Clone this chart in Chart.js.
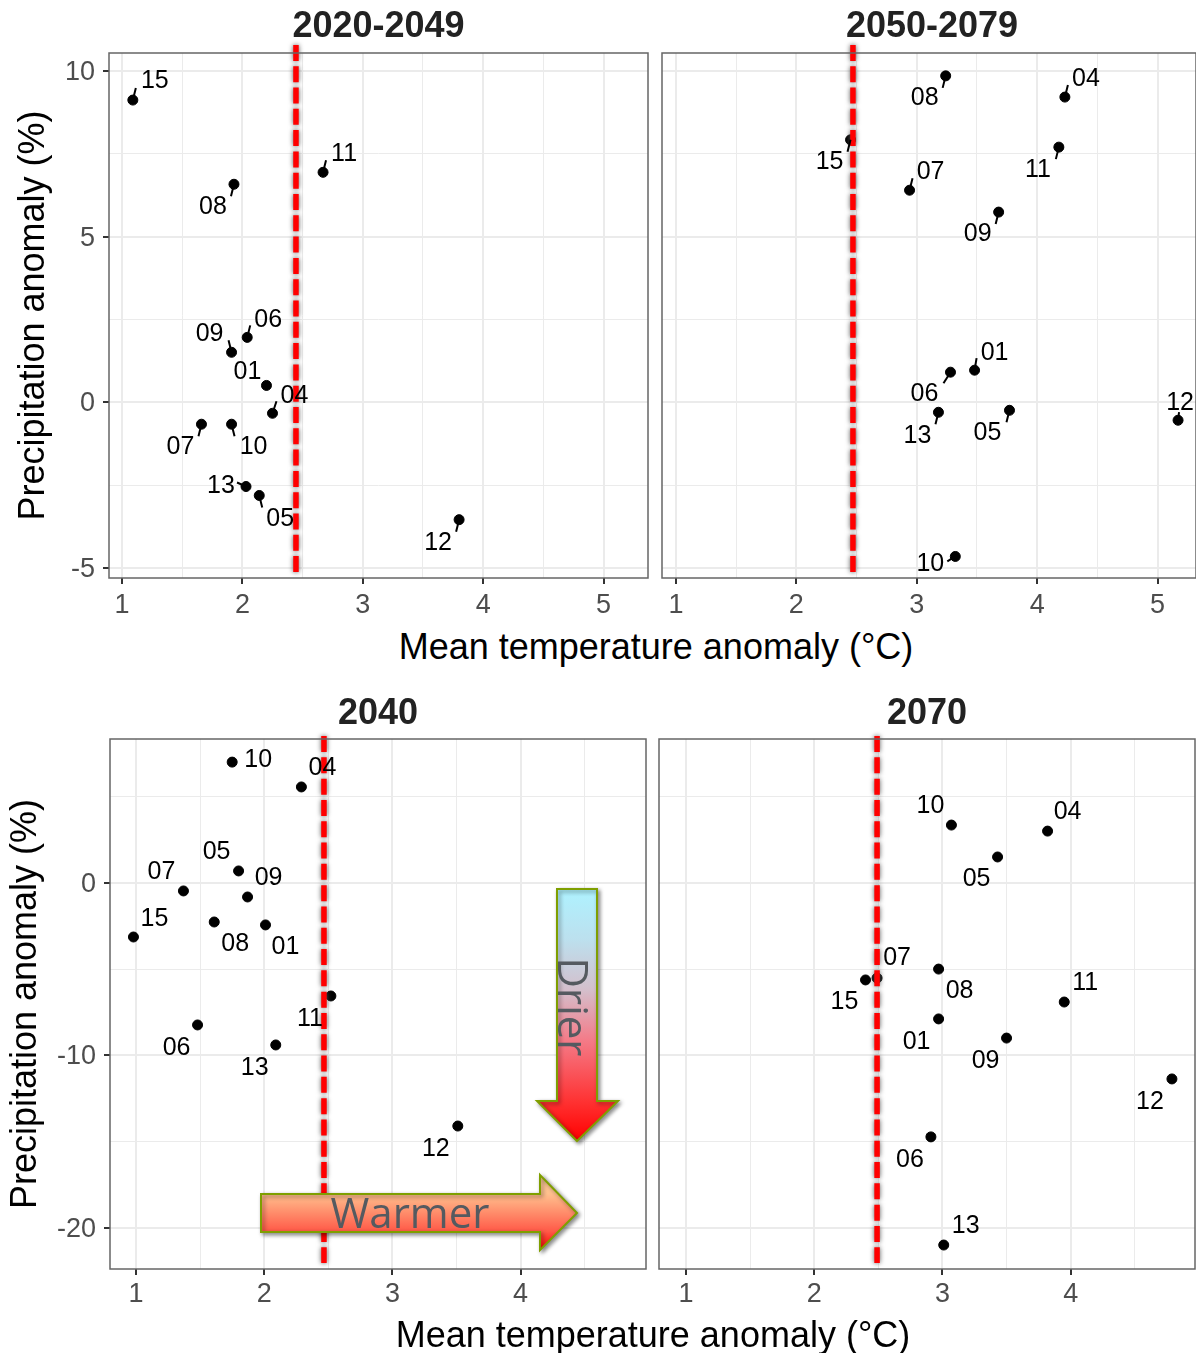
<!DOCTYPE html>
<html>
<head>
<meta charset="utf-8">
<script src="https://cdn.jsdelivr.net/npm/chart.js@4"></script>
<style>
html,body{margin:0;padding:0;background:#fff;}
body{position:relative;width:1196px;height:1353px;overflow:hidden;font-family:"Liberation Sans",Arial,sans-serif;}
canvas{position:absolute;}
.xtitle{position:absolute;font-size:36px;color:#000;white-space:nowrap;line-height:42px;transform:translateX(-50%);}
</style>
</head>
<body>
<canvas id="c1" width="655" height="625" style="left:0;top:0"></canvas>
<canvas id="c2" width="536" height="625" style="left:660px;top:0"></canvas>
<canvas id="c3" width="653" height="625" style="left:0;top:690px"></canvas>
<canvas id="c4" width="539" height="625" style="left:657px;top:690px"></canvas>
<div class="xtitle" style="left:656px;top:626px">Mean temperature anomaly (°C)</div>
<div class="xtitle" style="left:653px;top:1314px">Mean temperature anomaly (°C)</div>

<script>
// 2020-2049
let ids1 = ["15","08","11","06","09","01","04","07","10","13","05","12"];
let temp1 = [1.09,1.93,2.67,2.04,1.91,2.20,2.25,1.66,1.91,2.03,2.14,3.80];
let prec1 = [9.12,6.58,6.94,1.96,1.51,0.51,-0.33,-0.66,-0.66,-2.54,-2.81,-3.54];
let labelDx1 = [22,-21,21,21,-22,-19,22,-21,22,-25,21,-21];
let labelDy1 = [-20,21,-20,-19,-20,-15,-19,21,21,-2,22,22];
let tailDx1 = [3,-3,3,3,-3,0,4,-3,3,-9,3,-3];
let tailDy1 = [-12,12,-12,-12,-12,0,-12,12,12,-4,12,12];

// 2050-2079
let ids2 = ["08","04","15","11","07","09","01","06","13","05","12","10"];
let temp2 = [3.24,4.23,2.45,4.18,2.94,3.68,3.48,3.28,3.18,3.77,5.17,3.32];
let prec2 = [9.85,9.21,7.92,7.70,6.40,5.74,0.97,0.91,-0.30,-0.24,-0.54,-4.65];
let labelDx2 = [-21,21,-21,-21,21,-21,20,-26,-21,-22,2,-25];
let labelDy2 = [21,-19,21,21,-20,21,-19,20,22,21,-19,6];
let tailDx2 = [-3,3,-3,-3,3,-3,2,-7,-3,-3,1,-8];
let tailDy2 = [12,-12,12,12,-12,12,-12,11,12,12,-8,5];

// 2040
let ids3 = ["10","04","05","07","09","15","08","01","11","06","13","12"];
let temp3 = [1.75,2.29,1.80,1.37,1.87,0.98,1.61,2.01,2.52,1.48,2.09,3.51];
let prec3 = [7.01,5.57,0.70,-0.46,-0.81,-3.13,-2.26,-2.43,-6.55,-8.23,-9.39,-14.09];
let labelDx3 = [26,21,-22,-22,21,21,21,20,-21,-21,-21,-22];
let labelDy3 = [-4,-20,-20,-20,-20,-19,21,21,22,22,22,22];

// 2070
let ids4 = ["10","04","05","07","15","08","11","01","09","12","06","13"];
let temp4 = [3.07,3.82,3.43,2.49,2.40,2.97,3.95,2.97,3.50,4.79,2.91,3.01];
let prec4 = [3.36,3.01,1.51,-5.51,-5.62,-4.99,-6.90,-7.88,-8.99,-11.36,-14.72,-20.99];
let labelDx4 = [-21,20,-21,20,-21,21,21,-22,-21,-22,-21,22];
let labelDy4 = [-20,-20,21,-21,21,21,-20,22,22,22,22,-20];

let thresholds = [2.445,2.47,2.466,2.49];
let titles = ["2020-2049","2050-2079","2040","2070"];
let yTitle = "Precipitation anomaly (%)";

const FONT = '"Liberation Sans", Arial, sans-serif';

function panelPlugin(p){
return {
id:"panelDecor",
afterLayout(chart){
chart.titleBlock.left += p.titleShift;
chart.titleBlock.right += p.titleShift;
},
beforeDatasetDraw(chart,args){
if(args.index === 1){
chart.ctx.save();
chart.ctx.shadowColor = "rgba(90,90,90,1)";
chart.ctx.shadowBlur = 5;
}
},
afterDatasetDraw(chart,args){
if(args.index === 1) chart.ctx.restore();
},
afterDatasetsDraw(chart){
let ctx = chart.ctx;
let a = chart.chartArea;
let pts = chart.getDatasetMeta(0).data;

ctx.save();
ctx.strokeStyle = "#666";
ctx.lineWidth = 1.5;
ctx.strokeRect(a.left,a.top,a.right-a.left,a.bottom-a.top);

// tails and month labels
ctx.strokeStyle = "#000";
ctx.lineWidth = 2;
ctx.fillStyle = "#000";
ctx.font = "25px " + FONT;
ctx.textAlign = "center";
ctx.textBaseline = "middle";
p.ids.forEach(function(id,i){
let e = pts[i];
if(p.tailDx && (p.tailDx[i] || p.tailDy[i])){
ctx.beginPath();
ctx.moveTo(e.x,e.y);
ctx.lineTo(e.x+p.tailDx[i],e.y+p.tailDy[i]);
ctx.stroke();
}
ctx.fillText(id,e.x+p.labelDx[i],e.y+p.labelDy[i]+1.5);
});
ctx.restore();

if(p.arrows) drawArrows(ctx);
}
};
}

function arrowPath(ctx,pts){
ctx.beginPath();
pts.forEach(function(q,i){
if(i==0) ctx.moveTo(q[0],q[1]);
else ctx.lineTo(q[0],q[1]);
});
ctx.closePath();
}

// canvas 3 sits at top 690, so y below is page y - 690
function drawArrows(ctx){
ctx.save();
ctx.lineWidth = 2;
ctx.strokeStyle = "#7f9f00";
ctx.shadowColor = "rgba(0,0,0,0.45)";
ctx.shadowBlur = 4;
ctx.shadowOffsetX = 2;
ctx.shadowOffsetY = 2;

let g = ctx.createLinearGradient(0,199,0,451);
g.addColorStop(0,"#aef2ff");
g.addColorStop(0.2,"#bce0ee");
g.addColorStop(0.4,"#d4bfcc");
g.addColorStop(0.6,"#f47b88");
g.addColorStop(0.85,"#ff3030");
g.addColorStop(1,"#ff0000");
arrowPath(ctx,[[557,199],[597,199],[597,411],[618,411],[577,451],[537,411],[557,411]]);
ctx.fillStyle = g;
ctx.fill();
ctx.stroke();

g = ctx.createLinearGradient(0,485,0,560);
g.addColorStop(0,"#ffd09a");
g.addColorStop(0.25,"#ffc08e");
g.addColorStop(0.75,"#ff5a48");
g.addColorStop(1,"#ff0000");
arrowPath(ctx,[[261,504],[540,504],[540,485],[577,523],[540,560],[540,542],[261,542]]);
ctx.fillStyle = g;
ctx.fill();
ctx.stroke();

ctx.shadowColor = "transparent";
ctx.fillStyle = "#555a60";
ctx.textAlign = "center";
ctx.textBaseline = "alphabetic";
ctx.font = '42px "Open Sans", sans-serif';
ctx.fillText("Warmer",410,538);
ctx.translate(558,317);
ctx.rotate(Math.PI/2);
ctx.font = '42px "Open Sans", sans-serif';
ctx.fillText("Drier",0,0);
ctx.restore();
}

function makePanel(p){
let majorX = function(v){ return Math.abs(v - Math.round(v)) < 1e-6; };
let majorY = function(v){ return Math.abs(v/p.yMajor - Math.round(v/p.yMajor)) < 1e-6; };

new Chart(document.getElementById(p.canvas),{
type:"scatter",
data:{
datasets:[
{
data:p.temp.map(function(t,i){ return {x:t,y:p.prec[i]}; }),
order:2,
pointRadius:5,
pointHoverRadius:5,
backgroundColor:"#000",
borderColor:"#000"
},
{
data:[{x:p.threshold,y:p.lineTop},{x:p.threshold,y:p.lineBottom}],
order:1,
showLine:true,
clip:false,
pointRadius:0,
borderColor:"#ff0000",
borderWidth:5.5,
borderDash:[16,5.3]
}
]
},
options:{
responsive:false,
animation:false,
events:[],
layout:{padding:p.padding,autoPadding:false},
plugins:{
legend:{display:false},
tooltip:{enabled:false},
title:{
display:true,
fullSize:false,
text:p.title,
color:"#222",
font:{family:FONT,size:36,weight:"bold",lineHeight:1.2},
padding:p.titlePad
}
},
scales:{
x:{
type:"linear",
min:p.xMin,
max:p.xMax,
afterFit(s){
s.height = p.xAxisH;
s.paddingLeft = 0;
s.paddingRight = 0;
},
border:{display:false},
grid:{
color:"#ebebeb",
lineWidth(c){ return majorX(c.tick.value) ? 2 : 1; },
tickColor(c){ return majorX(c.tick.value) ? "#333" : "rgba(0,0,0,0)"; },
tickWidth:2,
tickLength:6
},
ticks:{
stepSize:0.5,
includeBounds:false,
autoSkip:false,
maxRotation:0,
color:"#4d4d4d",
padding:p.xTickPad,
font:{family:FONT,size:27},
callback(v){ return majorX(v) ? String(Math.round(v)) : ""; }
}
},
y:{
type:"linear",
min:p.yMin,
max:p.yMax,
afterFit(s){
s.width = p.yAxisW;
s.paddingTop = 0;
s.paddingBottom = 0;
},
border:{display:false},
title:{
display:p.showY,
text:yTitle,
color:"#000",
font:{family:FONT,size:36},
padding:{top:p.yTitlePad,bottom:0}
},
grid:{
color:"#ebebeb",
lineWidth(c){ return majorY(c.tick.value) ? 2 : 1; },
tickColor(c){ return (p.showY && majorY(c.tick.value)) ? "#333" : "rgba(0,0,0,0)"; },
tickWidth:2,
tickLength:p.showY ? 6 : 0
},
ticks:{
display:p.showY,
stepSize:p.yMajor/2,
includeBounds:false,
autoSkip:false,
color:"#4d4d4d",
padding:8,
labelOffset:1.5,
font:{family:FONT,size:27},
callback(v){ return majorY(v) ? String(Math.round(v)) : ""; }
}
}
}
},
plugins:[panelPlugin(p)]
});
}

makePanel({canvas:"c1",ids:ids1,temp:temp1,prec:prec1,labelDx:labelDx1,labelDy:labelDy1,tailDx:tailDx1,tailDy:tailDy1,
threshold:thresholds[0],lineTop:10.785,lineBottom:-5.196,title:titles[0],titleShift:0,titlePad:{top:5.3,bottom:4.5},
xMin:0.892,xMax:5.369,yMin:-5.30,yMax:10.54,yMajor:5,showY:true,yAxisW:109,xAxisH:47,xTickPad:5,yTitlePad:12,padding:{left:0,right:7,top:0,bottom:0}});

makePanel({canvas:"c2",ids:ids2,temp:temp2,prec:prec2,labelDx:labelDx2,labelDy:labelDy2,tailDx:tailDx2,tailDy:tailDy2,
threshold:thresholds[1],lineTop:10.785,lineBottom:-5.196,title:titles[1],titleShift:3,titlePad:{top:5.3,bottom:4.5},
xMin:0.884,xMax:5.319,yMin:-5.30,yMax:10.54,yMajor:5,showY:false,yAxisW:0,xAxisH:47,xTickPad:5,yTitlePad:0,padding:{left:2,right:0,top:0,bottom:0}});

makePanel({canvas:"c3",ids:ids3,temp:temp3,prec:prec3,labelDx:labelDx3,labelDy:labelDy3,arrows:true,
threshold:thresholds[2],lineTop:8.52,lineBottom:-22.03,title:titles[2],titleShift:0,titlePad:{top:2,bottom:3.8},
xMin:0.797,xMax:4.978,yMin:-22.38,yMax:8.35,yMajor:10,showY:true,yAxisW:110,xAxisH:46,xTickPad:3,yTitlePad:4,padding:{left:0,right:7,top:0,bottom:0}});

makePanel({canvas:"c4",ids:ids4,temp:temp4,prec:prec4,labelDx:labelDx4,labelDy:labelDy4,
threshold:thresholds[3],lineTop:8.52,lineBottom:-22.03,title:titles[3],titleShift:0,titlePad:{top:2,bottom:3.8},
xMin:0.789,xMax:4.97,yMin:-22.38,yMax:8.35,yMajor:10,showY:false,yAxisW:0,xAxisH:46,xTickPad:3,yTitlePad:0,padding:{left:2,right:1,top:0,bottom:0}});
</script>
</body>
</html>
